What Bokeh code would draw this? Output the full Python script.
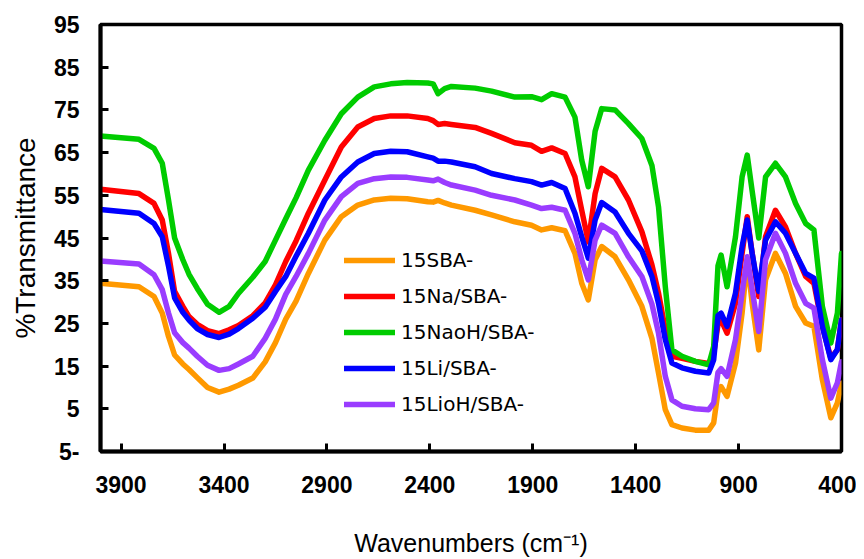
from bokeh.plotting import figure
from bokeh.models import Range1d, FixedTicker, Legend, LegendItem
from bokeh.embed import file_html
from bokeh.resources import INLINE

wavenumber = [4000, 3813, 3740, 3700, 3670, 3640, 3600, 3570, 3530, 3480,
              3424, 3375, 3330, 3260, 3200, 3150, 3100, 3050, 2990, 2910,
              2830, 2750, 2670, 2590, 2510, 2410, 2384, 2360, 2328, 2295,
              2180, 2100, 1987, 1906, 1857, 1808, 1743, 1695, 1662, 1630,
              1597, 1565, 1500, 1435, 1370, 1321, 1289, 1256, 1224, 1175,
              1110, 1045, 1021, 1000, 985, 956, 915, 883, 858, 834,
              802, 769, 721, 672, 623, 574, 534, 493, 452, 420,
              400]

sba15 = [34.4, 33.6, 31.3, 27.4, 22.0, 17.6, 15.5, 14.2, 12.3, 10.0,
         8.9, 9.6, 10.5, 12.2, 16.0, 20.5, 26.0, 30.2, 36.7, 44.5,
         50.0, 52.7, 53.9, 54.3, 54.2, 53.5, 53.4, 53.8, 53.2, 52.7,
         51.5, 50.4, 48.8, 48.0, 46.9, 47.4, 46.7, 41.4, 34.4, 30.5,
         39.9, 43.0, 40.6, 35.2, 29.0, 21.5, 13.4, 4.8, 1.3, 0.5,
         0.0, 0.0, 1.7, 9.0, 10.2, 7.9, 15.7, 27.4, 40.0, 29.7,
         18.8, 35.2, 41.4, 36.7, 29.0, 25.1, 24.3, 11.8, 2.9, 6.4,
         11.0]

na_sba15 = [56.4, 55.4, 53.1, 49.2, 41.5, 32.5, 29.0, 26.6, 24.8, 23.3,
            22.6, 23.5, 24.5, 26.8, 29.8, 34.0, 39.5, 44.3, 50.8, 58.6,
            66.3, 71.0, 73.0, 73.6, 73.6, 73.0, 72.5, 71.6, 71.8, 71.6,
            70.9, 69.5, 67.3, 66.7, 65.3, 66.1, 64.8, 59.3, 51.5, 44.1,
            55.4, 61.3, 59.3, 53.9, 46.5, 38.7, 32.1, 23.5, 17.3, 16.8,
            16.1, 15.6, 17.9, 24.8, 25.8, 22.7, 29.7, 41.4, 50.0, 41.4,
            31.3, 45.3, 51.5, 47.6, 41.4, 36.0, 34.4, 24.3, 16.9, 18.8,
            25.8]

naoh_sba15 = [68.9, 68.1, 66.0, 62.5, 54.0, 45.0, 39.9, 36.5, 33.2, 29.5,
              27.6, 29.0, 32.0, 35.8, 39.5, 44.5, 49.5, 54.4, 60.9, 67.9,
              74.1, 78.0, 80.4, 81.1, 81.4, 81.3, 81.1, 78.8, 80.0, 80.5,
              80.1, 79.4, 78.0, 78.1, 77.4, 78.8, 78.0, 73.3, 63.2, 57.0,
              70.0, 75.3, 75.0, 71.8, 68.3, 62.0, 52.3, 33.6, 18.8, 17.3,
              16.1, 15.3, 19.6, 38.5, 41.0, 33.6, 45.3, 59.3, 64.4, 56.0,
              45.0, 59.3, 62.5, 59.3, 53.1, 48.4, 46.9, 29.0, 20.4, 27.4,
              41.4]

li_sba15 = [51.7, 50.8, 48.4, 45.3, 38.5, 31.0, 27.6, 25.8, 23.8, 22.4,
            21.7, 22.5, 23.8, 26.2, 28.8, 32.5, 36.0, 40.7, 46.1, 53.9,
            59.3, 62.8, 64.8, 65.3, 65.2, 64.0, 63.7, 63.0, 63.0, 62.8,
            61.7, 60.1, 58.9, 58.2, 57.4, 58.0, 56.6, 50.8, 45.3, 40.3,
            49.2, 53.3, 51.1, 46.1, 42.0, 36.0, 29.7, 21.2, 15.7, 14.6,
            13.8, 13.4, 16.5, 26.8, 27.4, 24.3, 32.1, 43.0, 49.2, 41.4,
            32.5, 44.5, 48.8, 46.1, 41.4, 36.7, 35.6, 24.3, 16.5, 18.9,
            25.8]

lioh_sba15 = [39.6, 38.9, 36.4, 32.9, 27.5, 22.8, 20.5, 19.2, 17.3, 15.2,
              14.0, 14.4, 15.5, 17.3, 21.5, 26.0, 31.8, 36.0, 41.4, 49.2,
              54.7, 57.8, 58.9, 59.3, 59.2, 58.6, 58.4, 58.8, 58.0, 57.4,
              56.2, 55.0, 53.9, 52.7, 51.9, 52.2, 51.5, 46.1, 39.9, 35.2,
              44.5, 48.0, 46.1, 40.6, 36.0, 29.5, 22.7, 12.6, 7.1, 5.6,
              5.0, 4.8, 6.4, 13.5, 14.4, 12.6, 21.2, 32.1, 40.6, 32.9,
              23.1, 39.9, 46.1, 41.4, 34.4, 29.7, 28.6, 16.5, 7.5, 11.1,
              16.0]

series_labels = ["15SBA-", "15Na/SBA-", "15NaoH/SBA-", "15Li/SBA-", "15LioH/SBA-"]
series_values = [sba15, na_sba15, naoh_sba15, li_sba15, lioh_sba15]
series_colors = ["#ff9900", "#ff0000", "#00cc00", "#0000ff", "#9a3cff"]

x_ticks = [3900, 3400, 2900, 2400, 1900, 1400, 900, 400]
y_ticks = [-5, 5, 15, 25, 35, 45, 55, 65, 75, 85, 95]
y_tick_text = {-5: "5-"}

p = figure(width=856, height=559, output_backend="svg", toolbar_location=None,
           x_range=Range1d(4000, 400), y_range=Range1d(-5, 95),
           min_border_left=100, min_border_right=15, min_border_top=24, min_border_bottom=107)
p.background_fill_color = "white"
p.border_fill_color = "white"
p.outline_line_color = "black"
p.outline_line_width = 3.5
p.xgrid.visible = False
p.ygrid.visible = False

items = []
for lab, vals, col in zip(series_labels, series_values, series_colors):
    r = p.line(wavenumber, vals, line_color=col, line_width=5.5, line_join="round", line_cap="round")
    items.append(LegendItem(label=lab, renderers=[r]))

for ax in (p.xaxis[0], p.yaxis[0]):
    ax.axis_line_width = 4
    ax.axis_line_color = "black"
    ax.major_tick_in = 8
    ax.major_tick_out = 0
    ax.major_tick_line_width = 3
    ax.minor_tick_line_color = None
    ax.major_label_text_font = "Liberation Sans"
    ax.major_label_text_font_style = "bold"
    ax.major_label_text_font_size = "23px"
    ax.major_label_text_color = "black"
    ax.axis_label_text_font = "Liberation Sans"
    ax.axis_label_text_font_style = "normal"
    ax.axis_label_text_color = "black"

p.xaxis[0].ticker = FixedTicker(ticks=x_ticks)
p.yaxis[0].ticker = FixedTicker(ticks=y_ticks)
p.yaxis[0].major_label_overrides = y_tick_text
p.xaxis[0].major_label_standoff = 24
p.yaxis[0].major_label_standoff = 21
p.xaxis[0].axis_label = "Wavenumbers (cm⁻¹)"
p.yaxis[0].axis_label = "%Transmittance"
p.xaxis[0].axis_label_text_font_size = "25px"
p.yaxis[0].axis_label_text_font_size = "28px"
p.xaxis[0].axis_label_standoff = 33
p.yaxis[0].axis_label_standoff = 10

legend = Legend(items=items, location=(244, 35), padding=0, margin=0,
                glyph_width=51, glyph_height=20, label_height=20, spacing=12,
                label_standoff=6, label_text_font="DejaVu Sans",
                label_text_font_size="20px", label_text_color="black",
                border_line_color=None, background_fill_alpha=0)
p.add_layout(legend)

open("out.html", "w").write(file_html(p, INLINE))
